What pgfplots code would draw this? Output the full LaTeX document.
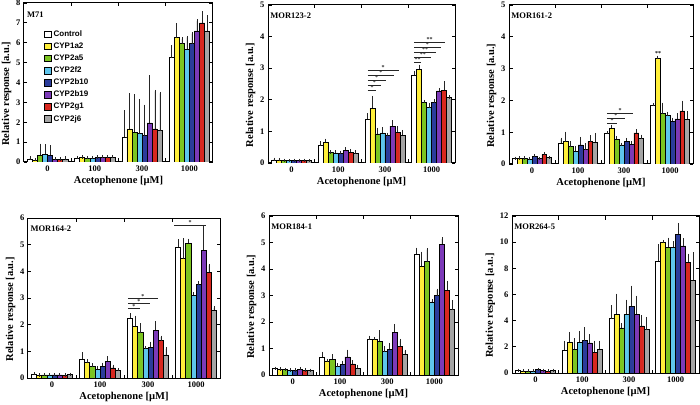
\documentclass[border=0pt]{standalone}
\usepackage{fontspec}
\setmainfont{Liberation Serif}
\newfontfamily\legfont{Liberation Sans}
\usepackage{pgfplots}
\usepackage{pgfplotstable}
\pgfplotsset{compat=1.18}

\definecolor{bar0}{HTML}{FFFFFF}
\definecolor{bar1}{HTML}{FFEF3A}
\definecolor{bar2}{HTML}{7CC520}
\definecolor{bar3}{HTML}{5EC5EC}
\definecolor{bar4}{HTML}{2B3C9B}
\definecolor{bar5}{HTML}{7C3AB8}
\definecolor{bar6}{HTML}{D8281F}
\definecolor{bar7}{HTML}{A5A5A5}

% M71
\pgfplotstableread{
g c0 c1 c2 c3 c4 c5 c6 c7 e0 e1 e2 e3 e4 e5 e6 e7
0 0.15 0.08 0.35 0.40 0.35 0.13 0.12 0.15 0.05 0.03 0.50 0.40 0.42 0.03 0.03 0.05
1 0.20 0.22 0.20 0.20 0.22 0.25 0.25 0.25 0.03 0.03 0.03 0.03 0.03 0.03 0.03 0.03
2 1.26 1.67 1.50 1.43 1.33 1.97 1.67 1.57 1.27 1.70 1.82 1.67 1.48 2.31 1.88 1.88
3 5.25 6.26 5.96 5.67 5.96 6.60 7.00 6.60 0.55 0.64 0.24 0.60 0.50 0.50 0.50 0.70
}\tabA
% MOR123-2
\pgfplotstableread{
g c0 c1 c2 c3 c4 c5 c6 c7 e0 e1 e2 e3 e4 e5 e6 e7
0 0.10 0.09 0.08 0.07 0.08 0.08 0.08 0.07 0.02 0.02 0.01 0.01 0.01 0.01 0.01 0.01
1 0.55 0.65 0.33 0.32 0.31 0.40 0.34 0.30 0.08 0.07 0.02 0.04 0.03 0.05 0.06 0.05
2 1.38 1.73 0.92 0.95 0.88 1.17 0.98 0.88 0.15 0.34 0.15 0.13 0.03 0.14 0.13 0.12
3 2.77 2.97 1.93 1.75 1.92 2.28 2.30 2.07 0.10 0.09 0.02 0.09 0.04 0.05 0.23 0.02
}\tabB
% MOR161-2
\pgfplotstableread{
g c0 c1 c2 c3 c4 c5 c6 c7 e0 e1 e2 e3 e4 e5 e6 e7
0 0.17 0.18 0.18 0.16 0.25 0.17 0.30 0.20 0.01 0.01 0.01 0.01 0.02 0.01 0.03 0.01
1 0.65 0.70 0.55 0.40 0.60 0.45 0.70 0.68 0.13 0.27 0.12 0.12 0.20 0.15 0.16 0.25
2 0.95 1.12 0.78 0.60 0.72 0.62 0.98 0.80 0.03 0.06 0.05 0.02 0.05 0.05 0.07 0.07
3 1.85 3.33 1.58 1.52 1.35 1.42 1.67 1.40 0.02 0.03 0.30 0.08 0.06 0.13 0.27 0.22
}\tabC
% MOR164-2
\pgfplotstableread{
g c0 c1 c2 c3 c4 c5 c6 c7 e0 e1 e2 e3 e4 e5 e6 e7
0 0.15 0.10 0.12 0.12 0.12 0.12 0.10 0.13 0.01 0.01 0.01 0.01 0.01 0.01 0.01 0.01
1 0.70 0.58 0.43 0.33 0.45 0.63 0.38 0.28 0.20 0.06 0.06 0.05 0.07 0.12 0.06 0.04
2 2.25 1.95 1.70 1.12 1.15 1.80 1.40 0.87 0.11 0.33 0.30 0.02 0.15 0.26 0.13 0.22
3 4.90 4.48 5.05 3.10 3.50 4.80 3.97 2.55 0.25 0.70 0.12 0.06 0.06 0.88 0.25 0.08
}\tabD
% MOR184-1
\pgfplotstableread{
g c0 c1 c2 c3 c4 c5 c6 c7 e0 e1 e2 e3 e4 e5 e6 e7
0 0.25 0.22 0.20 0.18 0.18 0.22 0.18 0.17 0.01 0.01 0.01 0.01 0.01 0.03 0.01 0.01
1 0.67 0.53 0.60 0.33 0.40 0.68 0.42 0.25 0.15 0.03 0.12 0.05 0.08 0.22 0.08 0.08
2 1.33 1.33 1.28 0.88 0.98 1.62 1.08 0.78 0.10 0.05 0.35 0.15 0.17 0.25 0.22 0.12
3 4.55 4.10 4.28 2.75 3.00 4.93 3.20 2.47 0.20 0.50 0.45 0.05 0.20 0.20 0.30 0.30
}\tabE
% MOR264-5
\pgfplotstableread{
g c0 c1 c2 c3 c4 c5 c6 c7 e0 e1 e2 e3 e4 e5 e6 e7
0 0.20 0.15 0.15 0.15 0.25 0.20 0.15 0.20 0.02 0.02 0.02 0.02 0.02 0.02 0.02 0.02
1 1.75 2.38 1.80 2.35 2.48 2.30 1.60 1.80 0.60 0.65 0.75 0.75 0.90 0.55 0.75 0.55
2 4.15 4.50 3.45 4.48 5.10 4.50 3.60 3.32 0.90 1.45 0.22 1.00 1.45 1.30 0.70 0.85
3 8.55 10.00 9.62 9.60 10.60 9.72 8.45 7.10 1.15 0.05 0.60 0.35 0.75 0.45 0.55 2.00
}\tabF

\newcommand{\groupbars}[1]{%
  \pgfplotsinvokeforeach{0,...,7}{%
    \addplot[ybar, bar width=0.107, fill=bar##1, draw=black, line width=0.6pt,
      error bars/.cd, y dir=plus, y explicit,
      error bar style={line width=0.5pt, black!85},
      error mark options={black!85, mark size=1.6pt, line width=0.5pt}]
      table[x expr=\thisrow{g}+(##1-3.5)*0.107, y=c##1, y error=e##1]{#1};
  }}

\tikzset{
  ptitle/.style={anchor=west, inner sep=0pt, font=\bfseries\fontsize{8.5}{10}\selectfont},
  star/.style={inner sep=0pt, font=\bfseries\fontsize{6}{6}\selectfont},
}

\newcommand{\sig}[4]{% x1 x2 y label
  \draw[line width=0.6pt, black!85] (axis cs:#1,#3) -- (axis cs:#2,#3)
    node[midway, above, star, yshift=0.2pt] {#4};}

\pgfplotsset{
  panel/.style={
    scale only axis, anchor=south west,
    xmin=-0.5, xmax=3.5, ymin=0,
    xtick={0,1,2,3}, xticklabels={0,100,300,1000},
    major x tick style={draw=none},
    minor xtick={0.5,1.5,2.5},
    tick align=inside,
    major tick length=3.5pt, minor tick length=3.5pt,
    tick style={line width=0.9pt, black},
    axis line style={line width=1pt},
    /pgf/number format/assume math mode=true,
    tick label style={font=\bfseries\fontsize{8.5}{10}\selectfont},
    label style={font=\bfseries\fontsize{10.5}{12}\selectfont},
    xlabel={Acetophenone [µM]},
    ylabel={Relative response [a.u.]},
    xlabel style={yshift=2pt},
    ylabel style={at={(ticklabel cs:0.43)}, yshift=-2pt},
  },
}

\begin{document}
\begin{tikzpicture}
\useasboundingbox (0pt,0pt) rectangle (700pt,404pt);

\begin{axis}[panel, at={(24pt,242pt)}, width=189pt, height=159pt,
  ymax=8, ytick={0,...,8},
  legend image code/.code={\draw[#1] (0pt,-3.4pt) rectangle (6.8pt,3.4pt);},
  legend style={at={(rel axis cs:0.106,0.84)}, anchor=north west, draw=none, fill=none,
    inner sep=0pt, row sep=0.9pt,
    font=\legfont\bfseries\fontsize{8}{9}\selectfont,
    /tikz/every even column/.append style={column sep=3pt}},
  legend cell align=left]
\groupbars{\tabA}
\legend{Control,CYP1a2,CYP2a5,CYP2f2,CYP2b10,CYP2b19,CYP2g1,CYP2j6}
\node[ptitle] at (rel axis cs:0.016,0.925) {M71};
\end{axis}

\begin{axis}[panel, at={(268pt,241pt)}, width=187pt, height=158pt,
  ymax=5, ytick={0,...,5}]
\groupbars{\tabB}
\sig{1.63}{1.82}{2.31}{*}
\sig{1.63}{1.92}{2.47}{*}
\sig{1.63}{2.02}{2.63}{*}
\sig{1.63}{2.20}{2.78}{*}
\sig{1.63}{2.30}{2.94}{*}
\sig{2.63}{2.77}{3.19}{**}
\sig{2.63}{2.99}{3.34}{**}
\sig{2.63}{3.09}{3.50}{**}
\sig{2.63}{3.19}{3.66}{*}
\sig{2.63}{3.28}{3.82}{**}
\node[ptitle] at (rel axis cs:0.012,0.93) {MOR123-2};
\end{axis}

\begin{axis}[panel, at={(509pt,240pt)}, width=184pt, height=159pt,
  ymax=5, ytick={0,...,5}]
\groupbars{\tabC}
\sig{1.63}{1.85}{1.28}{*}
\sig{1.63}{2.02}{1.44}{*}
\sig{1.63}{2.20}{1.59}{*}
\node[star, anchor=south] at (axis cs:2.74,3.40) {**};
\node[ptitle] at (rel axis cs:0.012,0.93) {MOR161-2};
\end{axis}

\begin{axis}[panel, at={(28pt,26pt)}, width=192pt, height=160pt,
  ymax=6, ytick={0,...,6}]
\groupbars{\tabD}
\sig{1.58}{1.83}{2.60}{*}
\sig{1.58}{2.04}{2.79}{*}
\sig{1.58}{2.21}{2.98}{*}
\sig{2.55}{3.20}{5.73}{*}
\node[ptitle] at (rel axis cs:0.012,0.93) {MOR164-2};
\end{axis}

\begin{axis}[panel, at={(269pt,29pt)}, width=189pt, height=159pt,
  ymax=6, ytick={0,...,6}]
\groupbars{\tabE}
\node[ptitle] at (rel axis cs:0.012,0.93) {MOR184-1};
\end{axis}

\begin{axis}[panel, at={(512pt,31pt)}, width=187pt, height=157pt,
  ymax=12, ytick={0,2,...,12}]
\groupbars{\tabF}
\node[ptitle] at (rel axis cs:0.012,0.93) {MOR264-5};
\end{axis}

\end{tikzpicture}
\end{document}
